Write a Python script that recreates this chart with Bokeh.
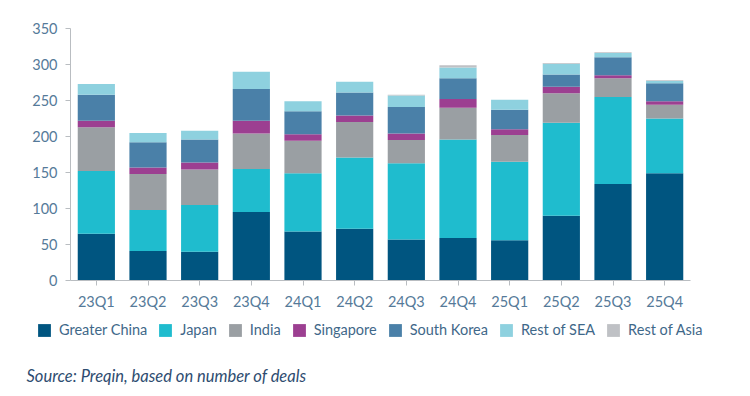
from bokeh.plotting import figure
from bokeh.layouts import column
from bokeh.models import FactorRange, Range1d, FixedTicker, Legend, LegendItem, Label
from bokeh.embed import file_html
from bokeh.resources import INLINE

quarters = ["23Q1", "23Q2", "23Q3", "23Q4", "24Q1", "24Q2", "24Q3", "24Q4",
            "25Q1", "25Q2", "25Q3", "25Q4"]
greater_china = [65, 41, 40, 95, 68, 72, 57, 59, 56, 90, 134, 149]
japan = [87, 57, 65, 60, 81, 99, 106, 137, 109, 129, 121, 76]
india = [61, 50, 49, 49, 45, 49, 32, 44, 37, 41, 26, 19]
singapore = [9, 9, 10, 18, 9, 9, 9, 12, 8, 9, 4, 5]
south_korea = [36, 35, 32, 44, 32, 32, 37, 29, 27, 17, 25, 25]
rest_of_sea = [15, 13, 12, 24, 14, 15, 16, 15, 14, 15, 6, 3]
rest_of_asia = [0, 0, 0, 0, 0, 0, 1, 3, 0, 1, 1, 1]

series = ["Greater China", "Japan", "India", "Singapore", "South Korea",
          "Rest of SEA", "Rest of Asia"]
colors = ["#005580", "#1fbcce", "#9a9fa3", "#9c3f91", "#4a80a8", "#8ed1df", "#bfc1c5"]
y_ticks = [0, 50, 100, 150, 200, 250, 300, 350]

data = {"quarter": quarters, "Greater China": greater_china, "Japan": japan,
        "India": india, "Singapore": singapore, "South Korea": south_korea,
        "Rest of SEA": rest_of_sea, "Rest of Asia": rest_of_asia}

FONT = "Lato"
TICK_COLOR = "#557a99"

# ---- main chart ----
p = figure(x_range=FactorRange(*quarters, range_padding=0), y_range=Range1d(0, 350),
           width=750, height=316, output_backend="svg", toolbar_location=None,
           min_border_left=70, min_border_right=60, min_border_top=28,
           min_border_bottom=36, frame_align=False)
p.outline_line_color = None
p.background_fill_color = "white"
p.border_fill_color = "white"

p.vbar_stack(series, x="quarter", width=0.72, source=data, color=colors,
             line_color=None)

p.xgrid.grid_line_color = None
p.ygrid.grid_line_color = None

p.yaxis.ticker = FixedTicker(ticks=y_ticks)
p.yaxis.minor_tick_line_color = None
for ax in (p.xaxis[0], p.yaxis[0]):
    ax.axis_line_color = "#b9bdc1"
    ax.major_tick_line_color = "#b9bdc1"
    ax.major_tick_out = 5
    ax.major_tick_in = 0
    ax.major_label_text_font = FONT
    ax.major_label_text_font_size = "14.5px"
    ax.major_label_text_color = TICK_COLOR
p.yaxis.major_label_standoff = 8
p.xaxis.major_label_standoff = 7

# ---- legend + source strip ----
p2 = figure(x_range=FactorRange(*quarters), y_range=Range1d(1000, 1001),
            width=750, height=80, output_backend="svg", toolbar_location=None,
            x_axis_location=None, y_axis_location=None,
            min_border_left=0, min_border_right=0, min_border_top=0,
            min_border_bottom=0, frame_align=False)
p2.outline_line_color = None
p2.xgrid.grid_line_color = None
p2.ygrid.grid_line_color = None
rs2 = p2.vbar_stack(series, x="quarter", width=0.72, source=data, color=colors,
                    line_color=None)

items = [LegendItem(label=s, renderers=[r]) for s, r in zip(series, rs2)]
legend = Legend(items=items, orientation="horizontal", location=(36, 58),
                padding=0, margin=0, spacing=10, label_standoff=7,
                glyph_width=16, glyph_height=16, label_height=16,
                label_text_font=FONT, label_text_font_size="14.5px",
                label_text_color="#3f6889", border_line_color=None,
                background_fill_alpha=0)
p2.add_layout(legend, "center")

src = Label(x=26, y=21, x_units="screen", y_units="screen",
            text="Source: Preqin, based on number of deals",
            text_font=FONT, text_font_style="italic", text_font_size="16.5px",
            text_color="#2e4c70", text_baseline="middle")
p2.add_layout(src)

layout = column(p, p2, spacing=0)
open("out.html", "w").write(file_html(layout, INLINE))
